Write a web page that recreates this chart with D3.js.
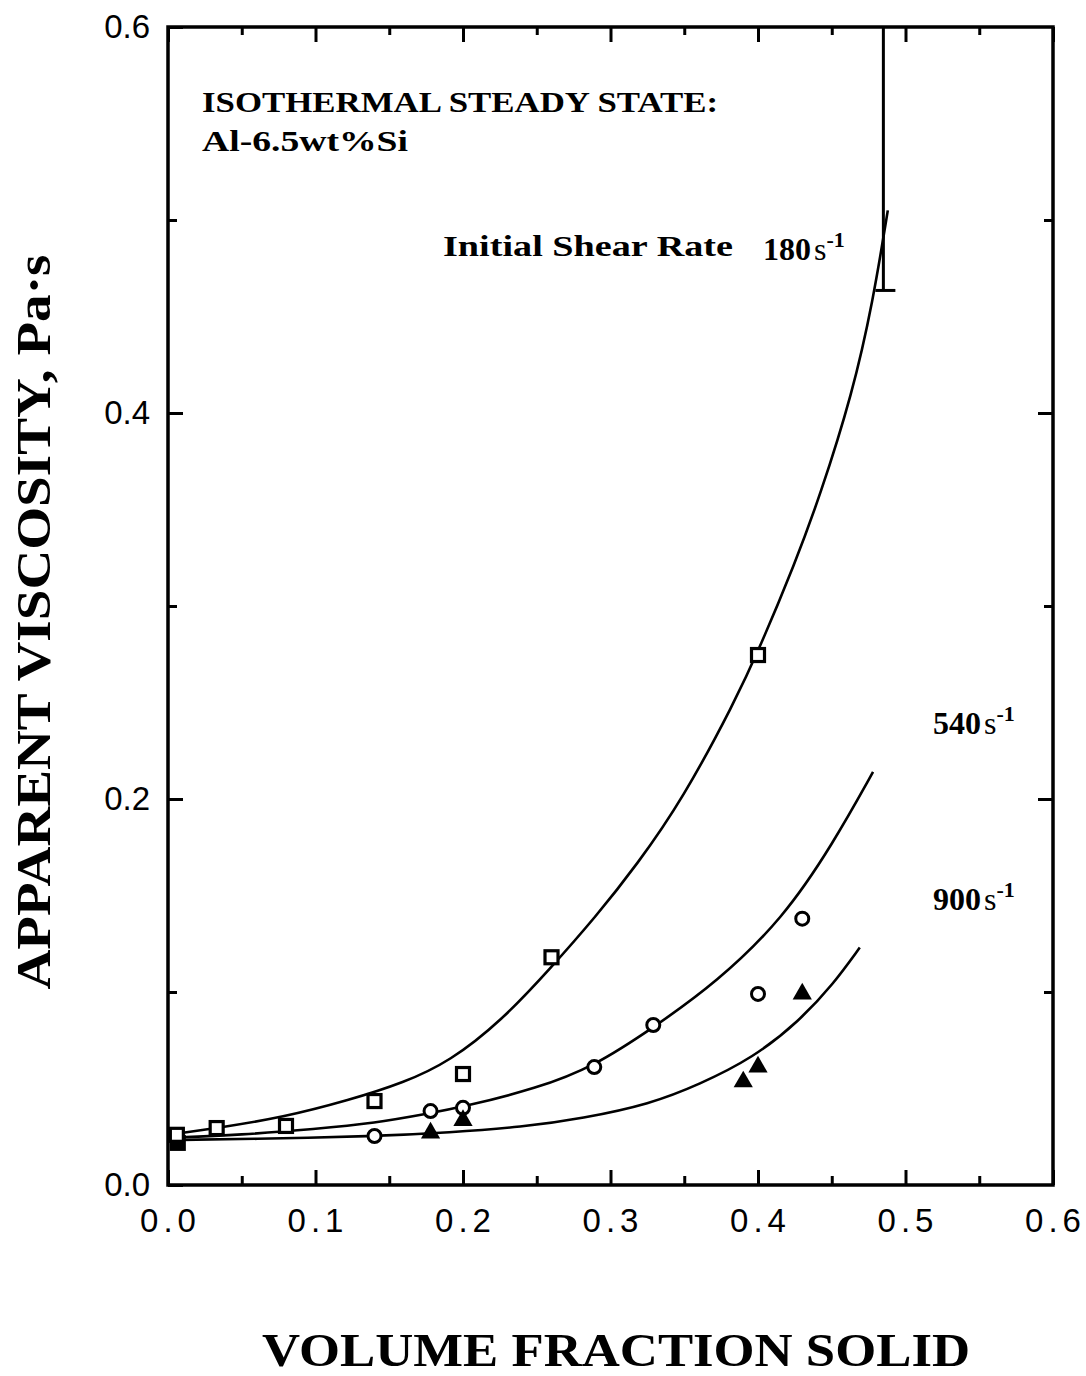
<!DOCTYPE html>
<html>
<head>
<meta charset="utf-8">
<script src="https://cdn.jsdelivr.net/npm/d3@7"></script>
<style>
  html, body { margin: 0; padding: 0; background: #fff; }
  svg { display: block; }
</style>
</head>
<body>
<svg id="chart" width="1086" height="1376"></svg>
<script>
// ---------- data ----------
const xTickLabels = ["0.0", "0.1", "0.2", "0.3", "0.4", "0.5", "0.6"];
const yTickLabels = ["0.0", "0.2", "0.4", "0.6"];

// data points: [volume fraction solid, apparent viscosity]
const squares180 = [[0.006, 0.026], [0.033, 0.0295], [0.080, 0.0306], [0.140, 0.0435], [0.200, 0.0575], [0.260, 0.118], [0.400, 0.2746]];
const filledSquares = [[0.006, 0.0218]];
const circles540 = [[0.140, 0.0254], [0.178, 0.0383], [0.200, 0.0400], [0.289, 0.0611], [0.329, 0.0829], [0.400, 0.0990], [0.430, 0.1380]];
const triangles900 = [[0.178, 0.0275], [0.200, 0.0340], [0.390, 0.0540], [0.400, 0.0617], [0.430, 0.0995]];

// fitted curves
const curve180 = [[0.0, 0.026], [0.033, 0.0295], [0.078, 0.035], [0.123, 0.044], [0.160, 0.053], [0.191, 0.064], [0.226, 0.085], [0.259, 0.112], [0.290, 0.139], [0.318, 0.166], [0.349, 0.200], [0.384, 0.250], [0.401, 0.278], [0.425, 0.322], [0.442, 0.357], [0.464, 0.410], [0.478, 0.458], [0.488, 0.505]];
const curve540 = [[0.0, 0.0245], [0.050, 0.026], [0.100, 0.029], [0.140, 0.032], [0.178, 0.0372], [0.200, 0.0405], [0.250, 0.050], [0.289, 0.0615], [0.329, 0.0815], [0.372, 0.105], [0.417, 0.138], [0.451, 0.177], [0.478, 0.214]];
const curve900 = [[0.0, 0.0233], [0.056, 0.0238], [0.140, 0.0252], [0.191, 0.0272], [0.240, 0.030], [0.281, 0.0345], [0.327, 0.042], [0.360, 0.052], [0.397, 0.066], [0.428, 0.085], [0.451, 0.104], [0.469, 0.123]];

// limit marker (vertical bar with cap) for 180 s-1
const limitX = [0.485];
const limitY = [0.6, 0.4635];

// ---------- layout ----------
const svg = d3.select("#chart");
const x = d3.scaleLinear().domain([0, 0.6]).range([168, 1053]);
const y = d3.scaleLinear().domain([0, 0.6]).range([1185, 27]);

const major = [0, 0.1, 0.2, 0.3, 0.4, 0.5, 0.6];
const xMinor = [0.05, 0.15, 0.25, 0.35, 0.45, 0.55];
const yMinor = [0.1, 0.3, 0.5];

const axisStyle = g => {
  g.select(".domain").remove();
  g.selectAll(".tick line").attr("stroke", "#000").attr("stroke-width", 3);
};

// bottom axis (major with labels)
svg.append("g").attr("transform", `translate(0,${y(0)})`)
  .call(d3.axisBottom(x).tickValues(major).tickSizeInner(-15).tickSizeOuter(0).tickPadding(24)
    .tickFormat((d, i) => xTickLabels[i]))
  .call(axisStyle)
  .call(g => g.selectAll("text").attr("font-family", "Liberation Sans, Arial, sans-serif")
    .attr("font-size", 33).attr("fill", "#000").style("letter-spacing", "5px").attr("dx", "2"));
svg.append("g").attr("transform", `translate(0,${y(0)})`)
  .call(d3.axisBottom(x).tickValues(xMinor).tickSizeInner(-9).tickSizeOuter(0).tickFormat(""))
  .call(axisStyle);
// top axis
svg.append("g").attr("transform", `translate(0,${y(0.6)})`)
  .call(d3.axisTop(x).tickValues(major).tickSizeInner(-15).tickSizeOuter(0).tickFormat(""))
  .call(axisStyle);
svg.append("g").attr("transform", `translate(0,${y(0.6)})`)
  .call(d3.axisTop(x).tickValues(xMinor).tickSizeInner(-8).tickSizeOuter(0).tickFormat(""))
  .call(axisStyle);
// left axis
svg.append("g").attr("transform", `translate(${x(0)},0)`)
  .call(d3.axisLeft(y).tickValues([0, 0.2, 0.4, 0.6]).tickSizeInner(-15).tickSizeOuter(0).tickPadding(18)
    .tickFormat((d, i) => yTickLabels[i]))
  .call(axisStyle)
  .call(g => g.selectAll("text").attr("font-family", "Liberation Sans, Arial, sans-serif")
    .attr("font-size", 33).attr("fill", "#000"));
svg.append("g").attr("transform", `translate(${x(0)},0)`)
  .call(d3.axisLeft(y).tickValues(yMinor).tickSizeInner(-9).tickSizeOuter(0).tickFormat(""))
  .call(axisStyle);
// right axis
svg.append("g").attr("transform", `translate(${x(0.6)},0)`)
  .call(d3.axisRight(y).tickValues([0.2, 0.4]).tickSizeInner(-15).tickSizeOuter(0).tickFormat(""))
  .call(axisStyle);
svg.append("g").attr("transform", `translate(${x(0.6)},0)`)
  .call(d3.axisRight(y).tickValues(yMinor).tickSizeInner(-9).tickSizeOuter(0).tickFormat(""))
  .call(axisStyle);

// frame
svg.append("rect")
  .attr("x", x(0)).attr("y", y(0.6))
  .attr("width", x(0.6) - x(0)).attr("height", y(0) - y(0.6))
  .attr("fill", "none").attr("stroke", "#000").attr("stroke-width", 3.5);

// curves
const line = d3.line().x(d => x(d[0])).y(d => y(d[1])).curve(d3.curveBasis);
[curve180, curve540, curve900].forEach(c => {
  svg.append("path").attr("d", line(c)).attr("fill", "none")
    .attr("stroke", "#000").attr("stroke-width", 2.6);
});

// limit bar
svg.append("line")
  .attr("x1", x(limitX[0])).attr("x2", x(limitX[0]))
  .attr("y1", y(limitY[0])).attr("y2", y(limitY[1]))
  .attr("stroke", "#000").attr("stroke-width", 3);
svg.append("line")
  .attr("x1", x(limitX[0]) - 8).attr("x2", x(limitX[0]) + 12)
  .attr("y1", y(limitY[1])).attr("y2", y(limitY[1]))
  .attr("stroke", "#000").attr("stroke-width", 3);

// markers
const sq = 16;
svg.selectAll(".fsq").data(filledSquares).join("rect")
  .attr("x", d => x(d[0]) - sq / 2 + 1).attr("y", d => y(d[1]) - sq / 2)
  .attr("width", sq).attr("height", sq).attr("fill", "#000");
svg.selectAll(".sq").data(squares180).join("rect")
  .attr("x", d => x(d[0]) - sq / 2 + 1.5).attr("y", d => y(d[1]) - sq / 2 + 1.5)
  .attr("width", sq - 3).attr("height", sq - 3)
  .attr("fill", "#fff").attr("stroke", "#000").attr("stroke-width", 3.2);
svg.selectAll(".ci").data(circles540).join("circle")
  .attr("cx", d => x(d[0])).attr("cy", d => y(d[1])).attr("r", 6.5)
  .attr("fill", "#fff").attr("stroke", "#000").attr("stroke-width", 3);
const tri = d3.symbol().type(d3.symbolTriangle).size(160);
svg.selectAll(".tr").data(triangles900).join("path")
  .attr("d", tri)
  .attr("transform", d => `translate(${x(d[0])},${y(d[1]) + 1})`)
  .attr("fill", "#000");

// annotations
const serif = "Liberation Serif, Times New Roman, serif";
const txt = (s, px, py, size, len) => {
  const t = svg.append("text").attr("x", px).attr("y", py)
    .attr("font-family", serif).attr("font-weight", "bold").attr("font-size", size)
    .attr("fill", "#000").text(s);
  if (len) t.attr("textLength", len).attr("lengthAdjust", "spacingAndGlyphs");
  return t;
};
txt("ISOTHERMAL STEADY STATE:", 202, 112, 29, 516);
txt("Al-6.5wt%Si", 202, 151, 29, 206);
txt("Initial Shear Rate", 443, 256, 29, 290);

const rateLabel = (num, px, py) => {
  const t = svg.append("text").attr("x", px).attr("y", py)
    .attr("font-family", serif).attr("font-weight", "bold").attr("font-size", 32).attr("fill", "#000");
  t.append("tspan").text(num);
  t.append("tspan").attr("dx", 3).attr("font-weight", "normal").attr("font-size", 32).text("s");
  t.append("tspan").attr("dy", -13).attr("font-size", 22).text("-1");
};
rateLabel("180", 763, 260);
rateLabel("540", 933, 734);
rateLabel("900", 933, 910);

// axis titles
svg.append("text")
  .attr("transform", "translate(50,622) rotate(-90)")
  .attr("text-anchor", "middle")
  .attr("font-family", serif).attr("font-weight", "bold").attr("font-size", 48)
  .attr("textLength", 735).attr("lengthAdjust", "spacingAndGlyphs")
  .attr("fill", "#000")
  .text("APPARENT  VISCOSITY,  Pa·s");
svg.append("text")
  .attr("x", 616).attr("y", 1366)
  .attr("text-anchor", "middle")
  .attr("font-family", serif).attr("font-weight", "bold").attr("font-size", 46)
  .attr("textLength", 708).attr("lengthAdjust", "spacingAndGlyphs")
  .attr("fill", "#000")
  .text("VOLUME  FRACTION  SOLID");
</script>
</body>
</html>
